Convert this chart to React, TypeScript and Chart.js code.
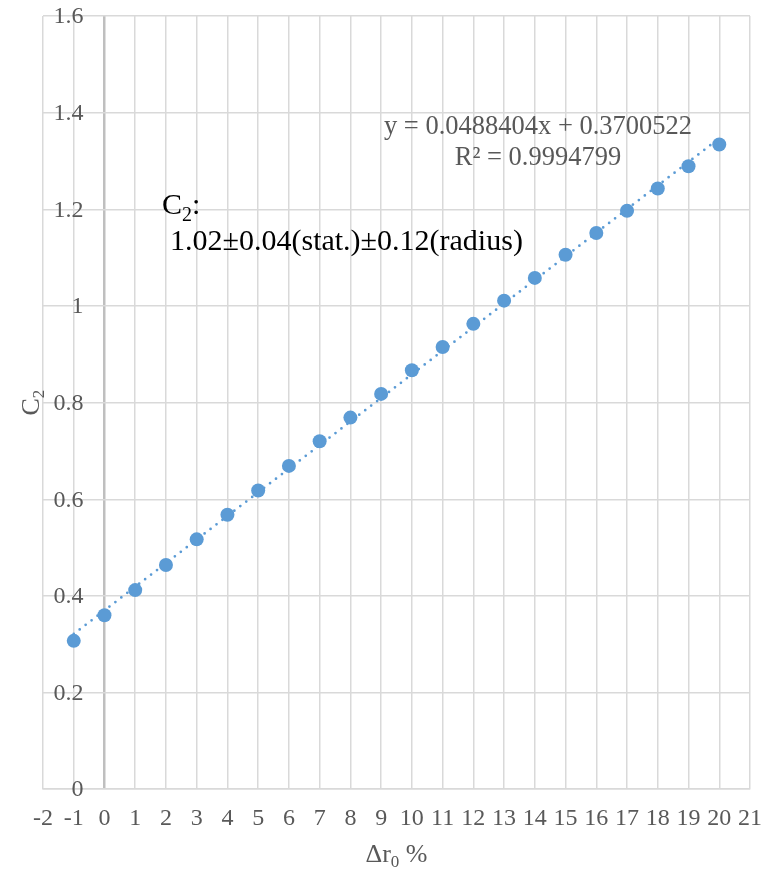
import { useEffect, useRef } from "react";
import { Chart, registerables } from "chart.js";

Chart.register(...registerables);

// Relative shift of the radius parameter (%) and the fitted C2 value at each shift
const DELTA_R0 = [-1, 0, 1, 2, 3, 4, 5, 6, 7, 8, 9, 10, 11, 12, 13, 14, 15, 16, 17, 18, 19, 20];
const C2_VALUES = [
  0.307, 0.36, 0.412, 0.464, 0.517, 0.568, 0.618, 0.669, 0.72, 0.769, 0.818,
  0.867, 0.915, 0.963, 1.011, 1.058, 1.106, 1.151, 1.197, 1.243, 1.289, 1.334,
];

// Linear trendline shown on the chart
const TREND_SLOPE = 0.0488404;
const TREND_INTERCEPT = 0.3700522;
const TREND_X = [-1, 20];
const EQUATION_TEXT = "y = 0.0488404x + 0.3700522";
const R2_TEXT = "R\u00B2 = 0.9994799";

// Axis ranges
const X_MIN = -2;
const X_MAX = 21;
const Y_MIN = 0;
const Y_MAX = 1.6;
const Y_STEP = 0.2;

const RESULT_HEAD = "C";
const RESULT_SUB = "2";
const RESULT_LINE = "1.02\u00B10.04(stat.)\u00B10.12(radius)";

const SERIF = '"Liberation Serif", "Times New Roman", serif';
const GRID = "#d9d9d9";
const AXIS = "#bfbfbf";
const LABEL = "#595959";
const BLUE = "#5b9bd5";

const fmtY = (v: number) => String(Math.round(v * 10) / 10);

const overlayPlugin = {
  id: "overlayText",
  afterDraw(chart: any) {
    const { ctx, scales, chartArea } = chart;
    const xs = scales.x;
    const ys = scales.y;
    ctx.save();

    // value labels beside the vertical axis (which crosses at x = 0)
    ctx.font = `24px ${SERIF}`;
    ctx.fillStyle = LABEL;
    ctx.textAlign = "right";
    ctx.textBaseline = "middle";
    const axisX = xs.getPixelForValue(0);
    ys.ticks.forEach((t: any) => {
      ctx.fillText(fmtY(t.value), axisX - 21, ys.getPixelForValue(t.value) + 1);
    });

    // trendline equation
    ctx.font = `26.5px ${SERIF}`;
    ctx.textAlign = "center";
    ctx.textBaseline = "alphabetic";
    ctx.fillText(EQUATION_TEXT, 538, 134);
    ctx.fillText(R2_TEXT, 538, 165);

    // result annotation
    ctx.fillStyle = "#000000";
    ctx.textAlign = "left";
    ctx.font = `30px ${SERIF}`;
    let cx = 162;
    ctx.fillText(RESULT_HEAD, cx, 214);
    cx += ctx.measureText(RESULT_HEAD).width;
    ctx.font = `20px ${SERIF}`;
    ctx.fillText(RESULT_SUB, cx, 221);
    cx += ctx.measureText(RESULT_SUB).width;
    ctx.font = `30px ${SERIF}`;
    ctx.fillText(":", cx, 214);
    ctx.fillText(RESULT_LINE, 170, 250);

    // x axis title: Δr0 %
    ctx.fillStyle = LABEL;
    const midX = (chartArea.left + chartArea.right) / 2;
    const p1 = "\u0394r";
    const p2 = "0";
    const p3 = " %";
    ctx.font = `26px ${SERIF}`;
    const w1 = ctx.measureText(p1).width;
    const w3 = ctx.measureText(p3).width;
    ctx.font = `17px ${SERIF}`;
    const w2 = ctx.measureText(p2).width;
    let tx = midX - (w1 + w2 + w3) / 2;
    ctx.font = `26px ${SERIF}`;
    ctx.fillText(p1, tx, 862);
    tx += w1;
    ctx.font = `17px ${SERIF}`;
    ctx.fillText(p2, tx, 867);
    tx += w2;
    ctx.font = `26px ${SERIF}`;
    ctx.fillText(p3, tx, 862);

    // y axis title: C2 (rotated)
    const midY = (chartArea.top + chartArea.bottom) / 2;
    ctx.translate(39, midY);
    ctx.rotate(-Math.PI / 2);
    ctx.font = `26px ${SERIF}`;
    const wc = ctx.measureText("C").width;
    ctx.font = `17px ${SERIF}`;
    const ws = ctx.measureText("2").width;
    let ry = -(wc + ws) / 2;
    ctx.font = `26px ${SERIF}`;
    ctx.fillText("C", ry, 0);
    ry += wc;
    ctx.font = `17px ${SERIF}`;
    ctx.fillText("2", ry, 5);

    ctx.restore();
  },
};

export default function App() {
  const canvasRef = useRef<HTMLCanvasElement | null>(null);

  useEffect(() => {
    const canvas = canvasRef.current;
    if (!canvas) return;

    const points = DELTA_R0.map((x, i) => ({ x, y: C2_VALUES[i] }));
    const trend = TREND_X.map((x) => ({ x, y: TREND_SLOPE * x + TREND_INTERCEPT }));

    const chart = new Chart(canvas, {
      type: "scatter",
      data: {
        datasets: [
          {
            label: "C2",
            data: points,
            backgroundColor: BLUE,
            borderColor: BLUE,
            borderWidth: 0,
            pointRadius: 7,
            pointHoverRadius: 7,
          },
          {
            label: "Linear fit",
            data: trend,
            showLine: true,
            borderColor: BLUE,
            borderWidth: 2.75,
            borderDash: [0, 7.5],
            borderCapStyle: "round",
            pointRadius: 0,
            fill: false,
          },
        ],
      },
      options: {
        responsive: false,
        animation: false,
        devicePixelRatio: 1,
        layout: { autoPadding: false, padding: { left: 43, right: 15, top: 16, bottom: 24 } },
        plugins: {
          legend: { display: false },
          tooltip: { enabled: false },
        },
        scales: {
          x: {
            type: "linear",
            min: X_MIN,
            max: X_MAX,
            afterFit: (s: any) => {
              s.paddingLeft = 0;
              s.paddingRight = 0;
            },
            ticks: {
              stepSize: 1,
              autoSkip: false,
              maxRotation: 0,
              minRotation: 0,
              padding: 15,
              color: LABEL,
              font: { family: SERIF, size: 24 },
            },
            grid: {
              drawTicks: false,
              color: (c: any) => (c.tick && c.tick.value === 0 ? AXIS : GRID),
              lineWidth: (c: any) => (c.tick && c.tick.value === 0 ? 2.5 : 1.5),
            },
            border: { display: true, color: GRID, width: 1.5 },
          },
          y: {
            type: "linear",
            min: Y_MIN,
            max: Y_MAX,
            ticks: { stepSize: Y_STEP, display: false },
            grid: { drawTicks: false, color: GRID, lineWidth: 1.5 },
            border: { display: false },
          },
        },
      },
      plugins: [overlayPlugin],
    });

    return () => chart.destroy();
  }, []);

  return (
    <div style={{ position: "absolute", left: 0, top: 0, width: 765, height: 872, background: "#ffffff" }}>
      <canvas ref={canvasRef} width={765} height={872} style={{ display: "block" }} />
    </div>
  );
}
